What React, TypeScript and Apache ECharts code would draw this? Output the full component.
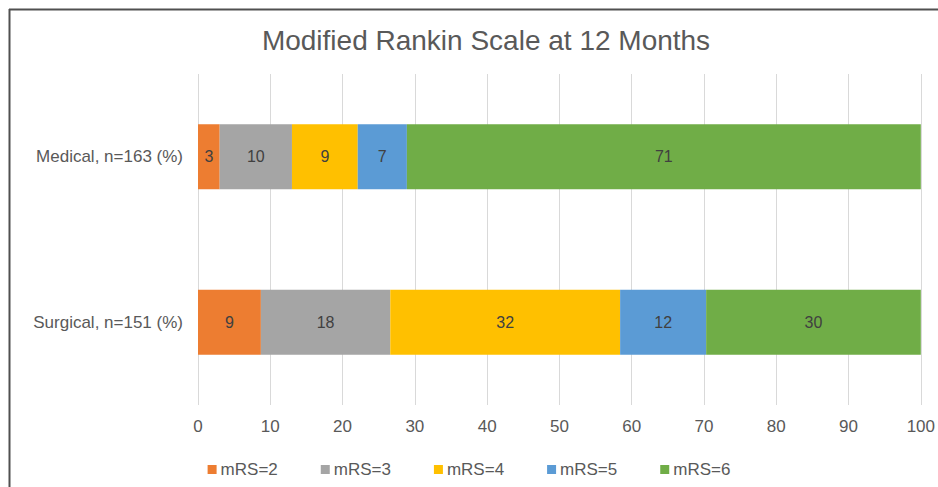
import React, { useEffect, useRef } from "react";
import * as echarts from "echarts";

const title = "Modified Rankin Scale at 12 Months";
const categories = ["Medical, n=163 (%)", "Surgical, n=151 (%)"];
const seriesNames = ["mRS=2", "mRS=3", "mRS=4", "mRS=5", "mRS=6"];
const medical = [3.0, 10.0, 9.1, 6.8, 71.1];
const surgical = [8.7, 17.9, 31.8, 11.9, 29.7];
const colors = ["#ED7D31", "#A5A5A5", "#FFC000", "#5B9BD5", "#70AD47"];
const xTicks = { min: 0, max: 100, interval: 10 };

const FONT = "'Liberation Sans', Arial, sans-serif";

export default function App() {
  const ref = useRef<HTMLDivElement>(null);
  useEffect(() => {
    if (!ref.current) return;
    const chart = echarts.init(ref.current, null, { renderer: "svg" });
    const series = seriesNames.map((name, i) => ({
      name,
      type: "bar",
      stack: "total",
      barWidth: 65,
      data: [medical[i], surgical[i]],
      itemStyle: { color: colors[i] },
      label: {
        show: true,
        position: "inside",
        color: "#404040",
        fontSize: 16,
        fontFamily: FONT,
        formatter: (p: any) => String(Math.round(p.value)),
      },
    }));
    chart.setOption({
      animation: false,
      backgroundColor: "#ffffff",
      textStyle: { fontFamily: FONT },
      title: {
        text: title,
        left: 481,
        textAlign: "center",
        top: 21,
        textStyle: { fontSize: 28, fontWeight: "normal", color: "#595959", fontFamily: FONT },
      },
      legend: {
        data: seriesNames,
        left: "center",
        top: 456,
        icon: "rect",
        itemWidth: 9,
        itemHeight: 9,
        itemGap: 43,
        textStyle: { fontSize: 17, color: "#595959", fontFamily: FONT, padding: [0, 0, 0, -1] },
      },
      grid: { left: 198, right: 17, top: 74, bottom: 82, containLabel: false },
      xAxis: {
        type: "value",
        min: xTicks.min,
        max: xTicks.max,
        interval: xTicks.interval,
        axisLine: { show: false },
        axisTick: { show: false },
        splitLine: { show: true, lineStyle: { color: "#D9D9D9", width: 1 } },
        axisLabel: { color: "#595959", fontSize: 17, margin: 13, fontFamily: FONT },
      },
      yAxis: {
        type: "category",
        data: categories,
        inverse: true,
        axisLine: { show: false },
        axisTick: { show: false },
        axisLabel: { color: "#595959", fontSize: 17, margin: 15, fontFamily: FONT },
      },
      series,
      graphic: [
        { type: "line", shape: { x1: 9, y1: 9.5, x2: 938, y2: 9.5 }, style: { stroke: "#505050", lineWidth: 2 } },
        { type: "line", shape: { x1: 9.5, y1: 9, x2: 9.5, y2: 487 }, style: { stroke: "#505050", lineWidth: 2 } },
      ],
    });
    return () => chart.dispose();
  }, []);
  return (
    <div
      ref={ref}
      style={{ position: "fixed", left: 0, top: 0, width: 938, height: 487 }}
    />
  );
}
